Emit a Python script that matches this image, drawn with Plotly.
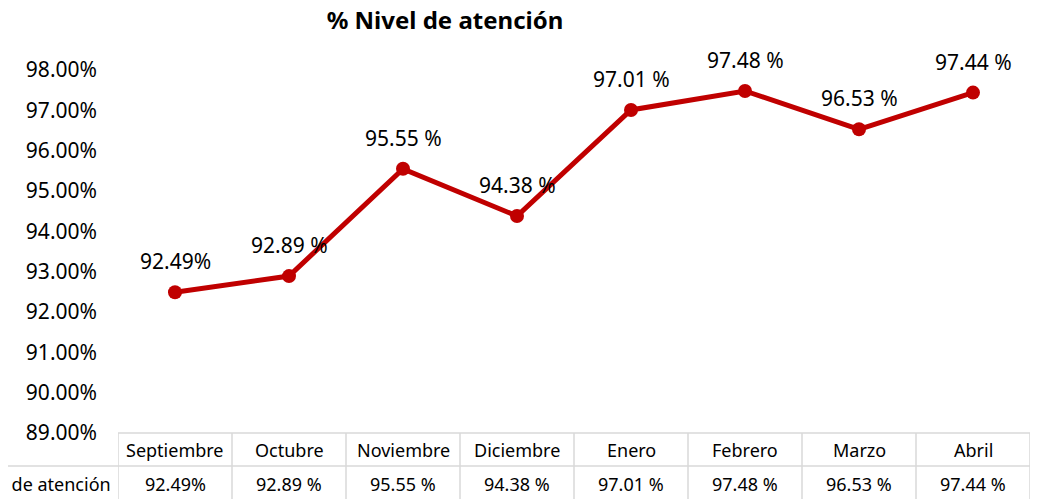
import plotly.graph_objects as go

months = ["Septiembre", "Octubre", "Noviembre", "Diciembre", "Enero", "Febrero", "Marzo", "Abril"]
values = [92.49, 92.89, 95.55, 94.38, 97.01, 97.48, 96.53, 97.44]
labels = ["92.49%", "92.89 %", "95.55 %", "94.38 %", "97.01 %", "97.48 %", "96.53 %", "97.44 %"]
series_name = "% Nivel de atención"
y_ticks = [89, 90, 91, 92, 93, 94, 95, 96, 97, 98]
y_tick_text = ["89.00%", "90.00%", "91.00%", "92.00%", "93.00%", "94.00%", "95.00%", "96.00%", "97.00%", "98.00%"]

RED = "#C00000"
GRID = "#D9D9D9"
FONT = "Noto Sans"
OFF = 8  # page body offset compensation

xs = list(range(len(months)))

fig = go.Figure()
fig.add_trace(go.Scatter(
    x=xs, y=values, mode="lines+markers",
    line=dict(color=RED, width=5),
    marker=dict(color=RED, size=14),
    hoverinfo="skip", showlegend=False,
))

annotations = []
for x, v, lab in zip(xs, values, labels):
    annotations.append(dict(x=x, y=v, xref="x", yref="y", text=lab, showarrow=False,
                            yanchor="middle", yshift=31,
                            font=dict(family=FONT, size=21, color="#000")))

plot_top, plot_bot = 70 - OFF, 433 - OFF
plot_h = float(plot_bot - plot_top)
def py(pix):
    return (433 - pix) / plot_h

shapes = []
n = len(months)
for i in range(n + 1):
    shapes.append(dict(type="line", xref="x", yref="paper", x0=i - 0.5, x1=i - 0.5,
                       y0=0, y1=py(520), line=dict(color=GRID, width=1.5)))
shapes.append(dict(type="line", xref="x", yref="paper", x0=-0.5, x1=n - 0.5,
                   y0=0, y1=0, line=dict(color=GRID, width=1.5)))
shapes.append(dict(type="line", xref="paper", yref="paper", x0=-0.2, x1=1.0,
                   y0=py(466), y1=py(466), line=dict(color=GRID, width=1.5)))

for i, m in enumerate(months):
    annotations.append(dict(x=i, y=py(449.5), xref="x", yref="paper", text=m, showarrow=False,
                            yanchor="middle", xanchor="center",
                            font=dict(family=FONT, size=18, color="#000")))
    annotations.append(dict(x=i, y=py(484), xref="x", yref="paper", text=labels[i], showarrow=False,
                            yanchor="middle", xanchor="center",
                            font=dict(family=FONT, size=18, color="#000")))
annotations.append(dict(x=0, y=py(484), xref="paper", yref="paper", text=series_name,
                        showarrow=False, xanchor="right", yanchor="middle", xshift=-5,
                        font=dict(family=FONT, size=18, color="#000")))

fig.update_layout(
    width=1038, height=499, autosize=False,
    margin=dict(l=118 - OFF, r=8 + OFF, t=plot_top, b=499 - plot_bot),
    paper_bgcolor="white", plot_bgcolor="white",
    title=dict(text="<b>% Nivel de atención</b>", x=(445 - OFF) / 1038, xanchor="center",
               y=1 - (21 - OFF) / 499, yanchor="middle",
               font=dict(family=FONT, size=24, color="#000")),
    xaxis=dict(range=[-0.5, n - 0.5], showticklabels=False, showgrid=False,
               zeroline=False, showline=False, fixedrange=True),
    yaxis=dict(range=[89, 98], tickvals=y_ticks, ticktext=y_tick_text,
               showgrid=False, zeroline=False, showline=False, ticks="",
               ticklabelstandoff=20,
               tickfont=dict(family=FONT, size=21, color="#000"), fixedrange=True),
    shapes=shapes, annotations=annotations,
)

fig.write_html("out.html")
